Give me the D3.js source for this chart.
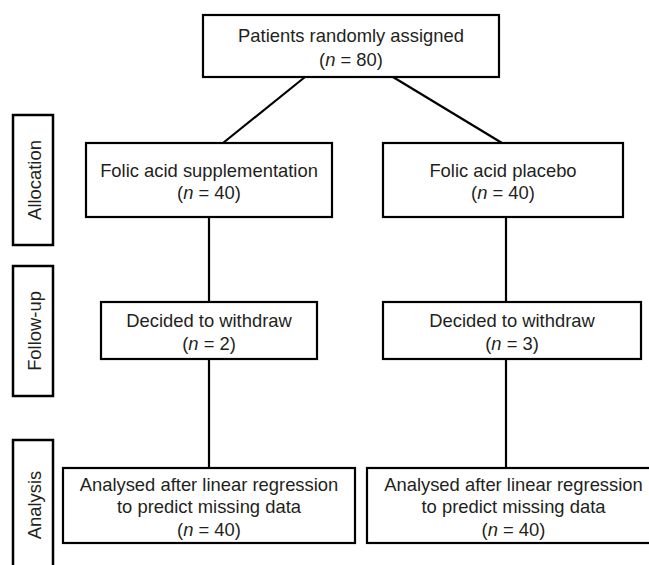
<html>
  <head>
    <script src="https://d3js.org/d3.v7.min.js"></script>
    <style>
      body { margin: 0; background: #fff; }
      text { font-family: "Liberation Sans", Arial, sans-serif; fill: #231f20; }
    </style>
  </head>
  <body>
    <div id="chart"></div>
    <script>
      // flow data
      const stages = ["Allocation", "Follow-up", "Analysis"];
      const topLabel = "Patients randomly assigned";
      const randomisedN = 80;
      const arms = ["supplementation", "placebo"];
      const allocationLabels = ["Folic acid supplementation", "Folic acid placebo"];
      const allocatedN = [40, 40];
      const withdrawLabel = "Decided to withdraw";
      const withdrawnN = [2, 3];
      const analysisLabel = ["Analysed after linear regression", "to predict missing data"];
      const analysedN = [40, 40];

      const width = 649, height = 565;
      const lineH = 22;
      const fontSize = "18.4px";

      const svg = d3.create("svg")
        .attr("width", width)
        .attr("height", height);

      // arm centre lines
      const xArm = d3.scalePoint().domain(arms).range([209, 506]);

      // vertical extents of each row
      const yRow = d3.scaleOrdinal()
        .domain(["top", ...stages])
        .range([[15, 77], [143, 217], [302, 359], [468, 543]]);

      // sidebar extents
      const ySide = d3.scaleOrdinal()
        .domain(stages)
        .range([[115, 245], [266, 396], [440, 610]]);

      // box horizontal extents per row
      const boxX = {
        top: [[203, 499]],
        Allocation: [[86, 332], [383, 623]],
        "Follow-up": [[101, 317], [383, 641]],
        Analysis: [[63, 355], [367, 660]]
      };

      function nLine(g, x, y, n) {
        const t = g.append("text")
          .attr("x", x).attr("y", y)
          .attr("text-anchor", "middle")
          .attr("dominant-baseline", "central")
          .attr("font-size", fontSize);
        t.append("tspan").text("(");
        t.append("tspan").attr("font-style", "italic").text("n");
        t.append("tspan").text(" = " + n + ")");
      }

      function box(row, i, lines, n) {
        const [x0, x1] = boxX[row][i];
        const [y0, y1] = yRow(row);
        const g = svg.append("g");
        g.append("rect")
          .attr("x", x0).attr("y", y0)
          .attr("width", x1 - x0).attr("height", y1 - y0)
          .attr("fill", "#fff")
          .attr("stroke", "#000")
          .attr("stroke-width", 2.2);
        const cx = (x0 + x1) / 2;
        const total = lines.length + 1;
        const cy = (y0 + y1) / 2 + 1;
        const step = row === "top" ? 24 : lineH;
        const start = cy - (total - 1) * step / 2;
        lines.forEach((l, k) => {
          g.append("text")
            .attr("x", cx).attr("y", start + k * step)
            .attr("text-anchor", "middle")
            .attr("dominant-baseline", "central")
            .attr("font-size", fontSize)
            .text(l);
        });
        nLine(g, cx, start + lines.length * step, n);
      }

      // connectors
      const links = svg.append("g")
        .attr("stroke", "#000")
        .attr("stroke-width", 2.2)
        .attr("fill", "none");

      const topBottom = yRow("top")[1];
      const allocTop = yRow("Allocation")[0];
      links.append("line")
        .attr("x1", 305).attr("y1", topBottom)
        .attr("x2", 223).attr("y2", allocTop);
      links.append("line")
        .attr("x1", 393).attr("y1", topBottom)
        .attr("x2", 502).attr("y2", allocTop);

      arms.forEach(a => {
        links.append("line")
          .attr("x1", xArm(a)).attr("y1", yRow("Allocation")[1])
          .attr("x2", xArm(a)).attr("y2", yRow("Follow-up")[0]);
        links.append("line")
          .attr("x1", xArm(a)).attr("y1", yRow("Follow-up")[1])
          .attr("x2", xArm(a)).attr("y2", yRow("Analysis")[0]);
      });

      // boxes
      box("top", 0, [topLabel], randomisedN);
      allocationLabels.forEach((l, i) => box("Allocation", i, [l], allocatedN[i]));
      withdrawnN.forEach((n, i) => box("Follow-up", i, [withdrawLabel], n));
      analysedN.forEach((n, i) => box("Analysis", i, analysisLabel, n));

      // stage sidebars
      stages.forEach(s => {
        const [y0, y1] = ySide(s);
        svg.append("rect")
          .attr("x", 13).attr("y", y0)
          .attr("width", 40).attr("height", y1 - y0)
          .attr("fill", "#fff")
          .attr("stroke", "#000")
          .attr("stroke-width", 2.5);
        const cy = s === "Analysis" ? 505 : (y0 + y1) / 2;
        svg.append("text")
          .attr("transform", `translate(34, ${cy}) rotate(-90)`)
          .attr("text-anchor", "middle")
          .attr("dominant-baseline", "central")
          .attr("font-size", fontSize)
          .text(s);
      });

      document.getElementById("chart").appendChild(svg.node());
    </script>
  </body>
</html>
